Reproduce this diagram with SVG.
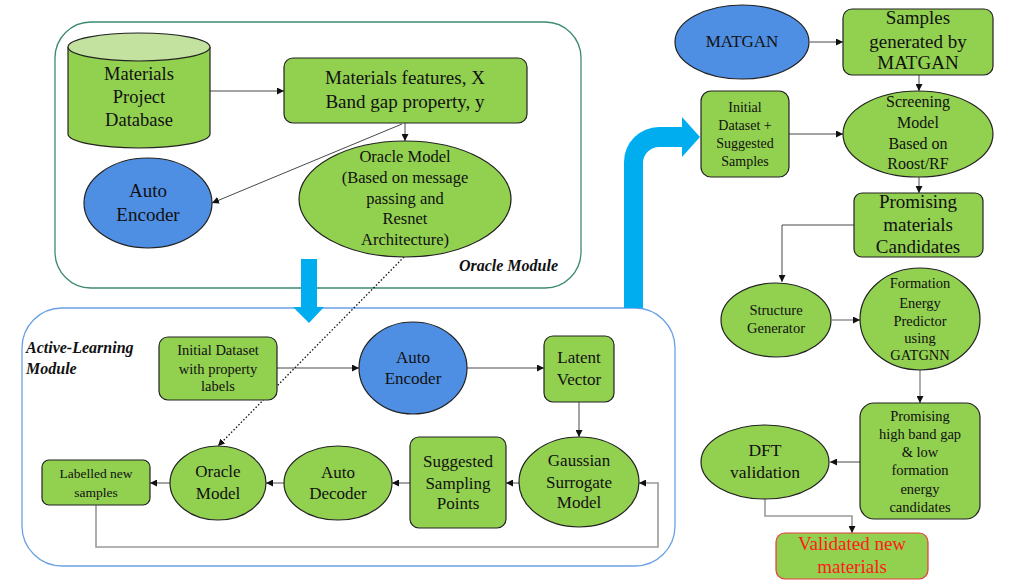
<svg xmlns="http://www.w3.org/2000/svg" width="1015" height="587" viewBox="0 0 1015 587">
<defs>
<marker id="ah" viewBox="0 0 10 10" refX="10" refY="5" markerWidth="7" markerHeight="7" markerUnits="userSpaceOnUse" orient="auto"><path d="M0,0 L10,5 L0,10 Z" fill="#111"/></marker>
<style>
.g{fill:#92d050;stroke:#222;stroke-width:1.2}
.b{fill:#4f8fe3;stroke:#222;stroke-width:1.2}
.t{fill:#111;text-anchor:middle}
.lbl{font-weight:bold;font-style:italic;fill:#111}
.c{fill:none;stroke:#333;stroke-width:0.9}
.cg{fill:none;stroke:#999;stroke-width:1.6}
</style>
</defs>
<rect width="1015" height="587" fill="#fff"/>

<g font-family="Liberation Serif, serif">
<g id="oracle-module">
<rect x="55" y="22" width="526" height="266" rx="36" fill="none" stroke="#3d8a6d" stroke-width="1.3"/>
<text class="lbl" x="558" y="271" font-size="16" text-anchor="end">Oracle Module</text>
</g>
<g id="active-learning-module">
<rect x="22" y="308" width="653" height="258" rx="40" fill="none" stroke="#6aa1e6" stroke-width="1.3"/>
<text class="lbl" x="26" y="353" font-size="16">Active-Learning</text>
<text class="lbl" x="26" y="374" font-size="16">Module</text>
</g>

<g id="flow-arrows" fill="#00adef">
<path d="M301 259 L317 259 L317 307 L324 307 L309 323 L293 307 L301 307 Z"/>
<path d="M624 308 L624 162 A35 35 0 0 1 659 127 L682 127 L682 117 L700 137 L682 157 L682 147 L659 147 A16 16 0 0 0 643 163 L643 308 Z"/>
</g>

<g id="connectors">
<line class="c" x1="210" y1="91" x2="284" y2="91" marker-end="url(#ah)"/>
<line class="c" x1="405" y1="123" x2="405" y2="141" marker-end="url(#ah)"/>
<line class="c" x1="402" y1="124" x2="212" y2="203" marker-end="url(#ah)"/>
<line x1="404" y1="257" x2="218" y2="446" stroke="#111" stroke-width="1.3" stroke-dasharray="1.5,2" marker-end="url(#ah)"/>
<line class="c" x1="277" y1="368" x2="359" y2="368" marker-end="url(#ah)"/>
<line class="c" x1="467" y1="368" x2="544" y2="368" marker-end="url(#ah)"/>
<line class="c" x1="579" y1="402" x2="579" y2="437" marker-end="url(#ah)"/>
<line class="c" x1="519" y1="483" x2="506" y2="483" marker-end="url(#ah)"/>
<line class="c" x1="410" y1="483" x2="392" y2="483" marker-end="url(#ah)"/>
<line class="c" x1="284" y1="483" x2="266" y2="483" marker-end="url(#ah)"/>
<line class="c" x1="170" y1="483" x2="150" y2="483" marker-end="url(#ah)"/>
<polyline class="cg" points="96,505 96,547 658,547 658,483 639,483" marker-end="url(#ah)"/>
<line class="c" x1="810" y1="42" x2="843" y2="42" marker-end="url(#ah)"/>
<line class="c" x1="919" y1="75" x2="919" y2="91" marker-end="url(#ah)"/>
<line class="c" x1="789" y1="134" x2="843" y2="134" marker-end="url(#ah)"/>
<line class="c" x1="919" y1="177" x2="919" y2="193" marker-end="url(#ah)"/>
<polyline class="c" points="854,225 782,225 782,282" marker-end="url(#ah)"/>
<line class="cg" x1="832" y1="320" x2="860" y2="320" stroke-width="1.2" marker-end="url(#ah)"/>
<line class="cg" x1="920" y1="370" x2="920" y2="403" marker-end="url(#ah)"/>
<line class="c" x1="860" y1="462" x2="830" y2="462" marker-end="url(#ah)"/>
<polyline class="cg" points="765,498 765,516 852,516 852,533" stroke-width="1.2" marker-end="url(#ah)"/>
</g>

<g id="materials-project-db">
<path class="g" d="M68 47 L68 134 A71 14 0 0 0 210 134 L210 47"/>
<ellipse cx="139" cy="47" rx="71" ry="14" fill="#c3e2a0" stroke="#222" stroke-width="1.2"/>
<text class="t" x="139" y="80" font-size="18.5">Materials</text>
<text class="t" x="139" y="103" font-size="18.5">Project</text>
<text class="t" x="139" y="126" font-size="18.5">Database</text>
</g>
<g id="materials-features">
<rect class="g" x="284" y="58" width="243" height="65" rx="9"/>
<text class="t" x="405" y="84" font-size="19">Materials features, X</text>
<text class="t" x="405" y="108" font-size="19">Band gap property, y</text>
</g>
<g id="auto-encoder-oracle">
<ellipse class="b" cx="148" cy="203" rx="64" ry="45"/>
<text class="t" x="148" y="197" font-size="19">Auto</text>
<text class="t" x="148" y="221" font-size="19">Encoder</text>
</g>
<g id="oracle-model-main">
<ellipse class="g" cx="405" cy="199" rx="106" ry="58"/>
<text class="t" x="405" y="162" font-size="16.5">Oracle Model</text>
<text class="t" x="405" y="183" font-size="16.5">(Based on message</text>
<text class="t" x="405" y="204" font-size="16.5">passing and</text>
<text class="t" x="405" y="224" font-size="16.5">Resnet</text>
<text class="t" x="405" y="245" font-size="16.5">Architecture)</text>
</g>

<g id="initial-dataset">
<rect class="g" x="159" y="337" width="118" height="63" rx="9"/>
<text class="t" x="218" y="355" font-size="14.5">Initial Dataset</text>
<text class="t" x="218" y="374" font-size="14.5">with property</text>
<text class="t" x="218" y="391" font-size="14.5">labels</text>
</g>
<g id="auto-encoder-al">
<ellipse class="b" cx="413" cy="368" rx="54" ry="46"/>
<text class="t" x="413" y="363" font-size="17">Auto</text>
<text class="t" x="413" y="384" font-size="17">Encoder</text>
</g>
<g id="latent-vector">
<rect class="g" x="544" y="336" width="70" height="66" rx="9"/>
<text class="t" x="579" y="363" font-size="17">Latent</text>
<text class="t" x="579" y="385" font-size="17">Vector</text>
</g>
<g id="gaussian-surrogate">
<ellipse class="g" cx="579" cy="482" rx="60" ry="45"/>
<text class="t" x="579" y="466" font-size="17">Gaussian</text>
<text class="t" x="579" y="488" font-size="17">Surrogate</text>
<text class="t" x="579" y="508" font-size="17">Model</text>
</g>
<g id="suggested-sampling">
<rect class="g" x="410" y="437" width="96" height="91" rx="9"/>
<text class="t" x="458" y="467" font-size="17">Suggested</text>
<text class="t" x="458" y="489" font-size="17">Sampling</text>
<text class="t" x="458" y="509" font-size="17">Points</text>
</g>
<g id="auto-decoder">
<ellipse class="g" cx="338" cy="483" rx="54" ry="37"/>
<text class="t" x="338" y="478" font-size="17">Auto</text>
<text class="t" x="338" y="499" font-size="17">Decoder</text>
</g>
<g id="oracle-model-al">
<ellipse class="g" cx="218" cy="483" rx="48" ry="37"/>
<text class="t" x="218" y="477" font-size="17">Oracle</text>
<text class="t" x="218" y="499" font-size="17">Model</text>
</g>
<g id="labelled-samples">
<rect class="g" x="42" y="460" width="108" height="45" rx="7"/>
<text class="t" x="96" y="478" font-size="13.5">Labelled new</text>
<text class="t" x="96" y="497" font-size="13.5">samples</text>
</g>

<g id="matgan">
<ellipse class="b" cx="742" cy="42" rx="67" ry="37"/>
<text class="t" x="742" y="47" font-size="17">MATGAN</text>
</g>
<g id="samples-generated">
<rect class="g" x="843" y="9" width="150" height="66" rx="9"/>
<text class="t" x="918" y="24" font-size="19">Samples</text>
<text class="t" x="918" y="48" font-size="19">generated by</text>
<text class="t" x="918" y="69" font-size="19">MATGAN</text>
</g>
<g id="initial-dataset-suggested">
<rect class="g" x="701" y="91" width="88" height="86" rx="10"/>
<text class="t" x="745" y="112" font-size="14">Initial</text>
<text class="t" x="745" y="130" font-size="14">Dataset +</text>
<text class="t" x="745" y="148" font-size="14">Suggested</text>
<text class="t" x="745" y="166" font-size="14">Samples</text>
</g>
<g id="screening-model">
<ellipse class="g" cx="918" cy="134" rx="75" ry="43"/>
<text class="t" x="918" y="107" font-size="16">Screening</text>
<text class="t" x="918" y="128" font-size="16">Model</text>
<text class="t" x="918" y="149" font-size="16">Based on</text>
<text class="t" x="918" y="169" font-size="16">Roost/RF</text>
</g>
<g id="promising-candidates">
<rect class="g" x="854" y="193" width="129" height="64" rx="8"/>
<text class="t" x="918" y="208" font-size="19">Promising</text>
<text class="t" x="918" y="231" font-size="19">materials</text>
<text class="t" x="918" y="253" font-size="19">Candidates</text>
</g>
<g id="structure-generator">
<ellipse class="g" cx="776" cy="320" rx="55" ry="37"/>
<text class="t" x="776" y="315" font-size="14.5">Structure</text>
<text class="t" x="776" y="333" font-size="14.5">Generator</text>
</g>
<g id="formation-energy">
<ellipse class="g" cx="920" cy="319" rx="60" ry="51"/>
<text class="t" x="920" y="288" font-size="14.5">Formation</text>
<text class="t" x="920" y="308" font-size="14.5">Energy</text>
<text class="t" x="920" y="326" font-size="14.5">Predictor</text>
<text class="t" x="920" y="343" font-size="14.5">using</text>
<text class="t" x="920" y="360" font-size="14.5">GATGNN</text>
</g>
<g id="promising-high-band-gap">
<rect class="g" x="860" y="403" width="120" height="116" rx="14"/>
<text class="t" x="920" y="421" font-size="14.5">Promising</text>
<text class="t" x="920" y="439" font-size="14.5">high band gap</text>
<text class="t" x="920" y="457" font-size="14.5">&amp; low</text>
<text class="t" x="920" y="475" font-size="14.5">formation</text>
<text class="t" x="920" y="494" font-size="14.5">energy</text>
<text class="t" x="920" y="512" font-size="14.5">candidates</text>
</g>
<g id="dft-validation">
<ellipse class="g" cx="765" cy="462" rx="64" ry="37"/>
<text class="t" x="765" y="456" font-size="17.5">DFT</text>
<text class="t" x="765" y="478" font-size="17.5">validation</text>
</g>
<g id="validated-materials">
<rect x="776" y="533" width="152" height="46" rx="9" fill="#92d050" stroke="#e83a3a" stroke-width="1.2"/>
<text class="t" x="852" y="550" font-size="19" style="fill:#ff1a1a">Validated new</text>
<text class="t" x="852" y="573" font-size="19" style="fill:#ff1a1a">materials</text>
</g>
</g>
</svg>
